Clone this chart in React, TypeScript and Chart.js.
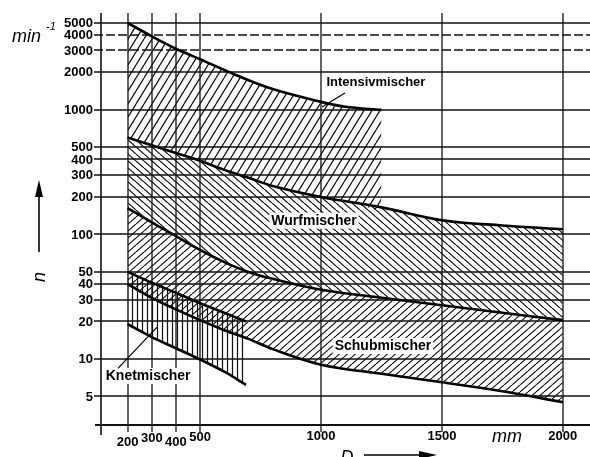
import React, { useEffect, useRef } from "react";
import { Chart, registerables } from "chart.js";

Chart.register(...registerables);

// ---- data (D in mm, n in min^-1) ----
const D_INTENSIV = [200, 300, 400, 500, 650, 800, 1000, 1100, 1250];
const INTENSIV_UPPER = [5000, 3900, 3100, 2550, 1900, 1470, 1160, 1060, 1000];
const INTENSIV_LOWER = [600, 520, 450, 390, 305, 245, 200, 183, 155];

const D_MAIN = [200, 300, 400, 500, 600, 700, 800, 1000, 1250, 1500, 1750, 2000];
const WURF_UPPER = [600, 520, 450, 390, 330, 285, 245, 200, 165, 130, 118, 110];
const SCHUB_UPPER = [163, 125, 97, 75, 60, 50, 44, 36, 31, 27, 23.5, 20.5];
const SCHUB_LOWER = [40, 31, 25, 20.5, 17, 14.5, 12, 9, 7.6, 6.5, 5.5, 4.5];

const D_KNET = [200, 300, 400, 500, 600, 690];
const KNET_UPPER = [50, 41, 34, 28, 23.5, 20];
const KNET_LOWER = [19, 15, 12.2, 9.9, 7.9, 6.2];

const Y_TICKS = [5, 10, 20, 30, 40, 50, 100, 200, 300, 400, 500, 1000, 2000, 3000, 4000, 5000];
const X_TICKS = [200, 300, 400, 500, 1000, 1500, 2000];

const LABELS = ["Intensivmischer", "Wurfmischer", "Schubmischer", "Knetmischer"];

// ---- styles ----
const X_LABEL_DY = [17, 13, 17, 12, 11, 11, 11];
const FONT = "'Liberation Sans', Arial, sans-serif";

const pts = (xs: number[], ys: number[]) => xs.map((x, i) => ({ x, y: ys[i] }));

function makeHatch(ctx: CanvasRenderingContext2D, w: number, h: number, dir: string, lw: number, color: string) {
  const c = document.createElement("canvas");
  c.width = w;
  c.height = h;
  const g = c.getContext("2d")!;
  g.strokeStyle = color;
  g.lineWidth = lw;
  g.beginPath();
  if (dir === "v") {
    g.moveTo(w / 2, 0);
    g.lineTo(w / 2, h);
  } else {
    for (const k of [-1, 0, 1]) {
      if (dir === "up") {
        g.moveTo(k * w, h);
        g.lineTo(k * w + w, 0);
      } else {
        g.moveTo(k * w, 0);
        g.lineTo(k * w + w, h);
      }
    }
  }
  g.stroke();
  return ctx.createPattern(c, "repeat")!;
}

const framePlugin = {
  id: "frame",
  beforeDatasetsDraw(chart: any) {
    const { ctx, scales } = chart;
    const x = scales.x, y = scales.y;
    const L = x.left, R = x.right, T = y.top, B = y.bottom;
    ctx.save();
    ctx.strokeStyle = "#111";
    const seg = (x1: number, y1: number, x2: number, y2: number, lw: number, dash: number[] = []) => {
      ctx.lineWidth = lw;
      ctx.setLineDash(dash);
      ctx.beginPath();
      ctx.moveTo(x1, y1);
      ctx.lineTo(x2, y2);
      ctx.stroke();
    };
    Y_TICKS.forEach((v) => {
      const py = Math.round(y.getPixelForValue(v));
      const dash = v === 3000 || v === 4000 ? [9, 3] : [];
      seg(L - 7, py, R + 3, py, 1.6, dash);
    });
    seg(L - 6, B, R + 3, B, 1.8);
    X_TICKS.forEach((v) => {
      const px = Math.round(x.getPixelForValue(v));
      seg(px, T, px, B + 7, 1.3);
    });
    seg(L, T, L, B + 10, 1.6);
    ctx.restore();
  },
  afterDatasetsDraw(chart: any) {
    const { ctx, scales } = chart;
    const x = scales.x, y = scales.y;
    const L = x.left, B = y.bottom, T = y.top;
    ctx.save();
    ctx.fillStyle = "#000";
    ctx.strokeStyle = "#000";
    // y tick labels
    ctx.font = `bold 13px ${FONT}`;
    ctx.textAlign = "right";
    ctx.textBaseline = "middle";
    Y_TICKS.forEach((v) => {
      ctx.fillText(String(v), L - 8, y.getPixelForValue(v) + 0.5);
    });
    // x tick labels
    ctx.textAlign = "center";
    X_TICKS.forEach((v, i) => {
      ctx.fillText(String(v), x.getPixelForValue(v), B + X_LABEL_DY[i]);
    });
    // axis units / titles
    ctx.font = `italic 18px ${FONT}`;
    ctx.textAlign = "left";
    ctx.textBaseline = "alphabetic";
    ctx.fillText("min", L - 89, T + 29);
    ctx.font = `italic 11px ${FONT}`;
    ctx.fillText("-1", L - 55, T + 17);
    ctx.font = `italic 18px ${FONT}`;
    ctx.textAlign = "center";
    ctx.fillText("mm", L + 406, B + 17);
    ctx.fillText("D", L + 246, B + 38);
    // D arrow
    ctx.lineWidth = 1.6;
    ctx.beginPath();
    ctx.moveTo(L + 263, B + 30);
    ctx.lineTo(L + 322, B + 30);
    ctx.stroke();
    ctx.beginPath();
    ctx.moveTo(L + 336, B + 30);
    ctx.lineTo(L + 318, B + 26);
    ctx.lineTo(L + 318, B + 34);
    ctx.closePath();
    ctx.fill();
    // n (rotated) and arrow
    ctx.save();
    ctx.translate(L - 61, T + 264);
    ctx.rotate(-Math.PI / 2);
    ctx.font = `italic 18px ${FONT}`;
    ctx.textAlign = "center";
    ctx.textBaseline = "middle";
    ctx.fillText("n", 0, 0);
    ctx.restore();
    ctx.beginPath();
    ctx.moveTo(L - 62, T + 239);
    ctx.lineTo(L - 62, T + 180);
    ctx.stroke();
    ctx.beginPath();
    ctx.moveTo(L - 62, T + 167);
    ctx.lineTo(L - 66, T + 184);
    ctx.lineTo(L - 58, T + 184);
    ctx.closePath();
    ctx.fill();
    // region labels
    ctx.textAlign = "center";
    ctx.textBaseline = "middle";
    const lab = (t: string, dx: number, dv: number, size: number) => {
      const px = x.getPixelForValue(dx), py = y.getPixelForValue(dv);
      ctx.font = `bold ${size}px ${FONT}`;
      const w = ctx.measureText(t).width;
      ctx.fillStyle = "#fff";
      ctx.fillRect(px - w / 2 - 2, py - size / 2 - 1, w + 4, size + 2);
      ctx.fillStyle = "#000";
      ctx.fillText(t, px, py + 0.5);
    };
    lab(LABELS[0], 1227, 1680, 13);
    lab(LABELS[1], 971, 129, 14);
    lab(LABELS[2], 1256, 12.7, 14);
    lab(LABELS[3], 285, 7.3, 14);
    // leader lines
    const leader = (x1: number, v1: number, x2: number, v2: number) => {
      ctx.lineWidth = 1.2;
      ctx.beginPath();
      ctx.moveTo(x.getPixelForValue(x1), y.getPixelForValue(v1));
      ctx.lineTo(x.getPixelForValue(x2), y.getPixelForValue(v2));
      ctx.stroke();
    };
    leader(1099, 1368, 1004, 1057);
    leader(160, 8.4, 322, 18);
    ctx.restore();
  },
};

export default function App() {
  const ref = useRef<HTMLCanvasElement>(null);
  useEffect(() => {
    const canvas = ref.current!;
    const ctx = canvas.getContext("2d")!;
    const ink = "#141414";
    const patInt = makeHatch(ctx, 8, 13, "up", 1.3, ink);
    const patWurf = makeHatch(ctx, 8, 7, "down", 1.25, ink);
    const patSchub = makeHatch(ctx, 8, 7, "up", 1.15, ink);
    const patKnet = makeHatch(ctx, 5, 4, "v", 1.25, ink);
    const common = {
      pointRadius: 0,
      tension: 0.35,
      borderColor: "#000",
      borderWidth: 2.6,
    };
    const chart = new Chart(canvas, {
      type: "line",
      data: {
        datasets: [
          { ...common, label: LABELS[0], data: pts(D_INTENSIV, INTENSIV_UPPER), fill: 1, backgroundColor: patInt },
          { ...common, label: "i-low", data: pts(D_INTENSIV, INTENSIV_LOWER), fill: false, borderColor: "rgba(0,0,0,0)", borderWidth: 1 },
          { ...common, label: LABELS[1], data: pts(D_MAIN, WURF_UPPER), fill: 3, backgroundColor: patWurf },
          { ...common, label: LABELS[2], data: pts(D_MAIN, SCHUB_UPPER), fill: 4, backgroundColor: patSchub },
          { ...common, label: "s-low", data: pts(D_MAIN, SCHUB_LOWER), fill: false },
          { ...common, label: LABELS[3], data: pts(D_KNET, KNET_UPPER), fill: 6, backgroundColor: patKnet },
          { ...common, label: "k-low", data: pts(D_KNET, KNET_LOWER), fill: false },
        ],
      },
      options: {
        animation: false,
        responsive: false,
        maintainAspectRatio: false,
        layout: { padding: { left: 101, top: 13, right: 3, bottom: 32 } },
        scales: {
          x: { type: "linear", min: 90, max: 2100, display: false },
          y: { type: "logarithmic", min: 2.95, max: 6000, display: false },
        },
        plugins: { legend: { display: false }, tooltip: { enabled: false } },
      },
      plugins: [framePlugin],
    });
    return () => chart.destroy();
  }, []);
  return (
    <div style={{ position: "fixed", left: 0, top: 0, width: 590, height: 457, background: "#fff" }}>
      <canvas ref={ref} width={590} height={457} style={{ width: 590, height: 457, display: "block" }} />
    </div>
  );
}
